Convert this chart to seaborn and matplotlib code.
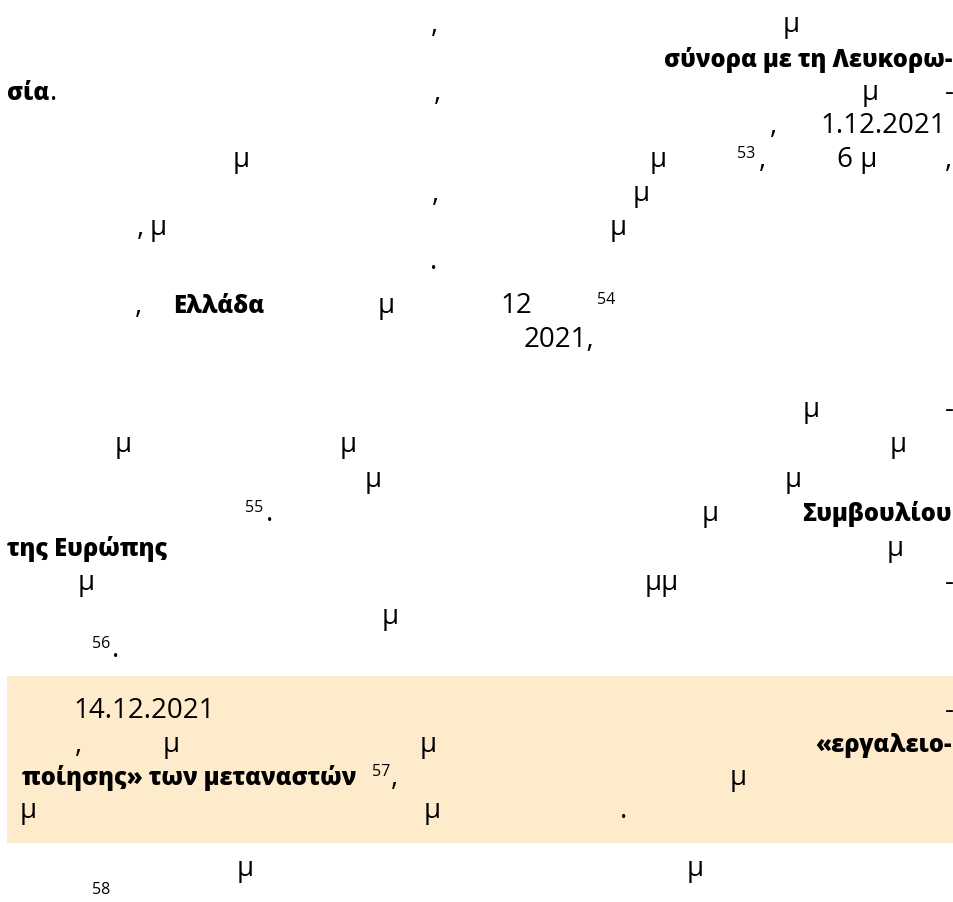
import matplotlib
matplotlib.use("Agg")
import matplotlib.pyplot as plt
from matplotlib.patches import Rectangle
import seaborn as sns

# ---------------- content: text fragments, line by line ----------------
body_lines = [
    [",", "μ"],
    ["σύνορα με τη Λευκορω-"],
    ["σία", ".", ",", "μ", "-"],
    [",", "1.12.2021"],
    ["μ", "μ", "53", ",", "6 μ", ","],
    [",", "μ"],
    [",", "μ", "μ"],
    ["."],
    [",", "Ελλάδα", "μ", "12", "54"],
    ["2021,"],
    ["μ", "-"],
    ["μ", "μ", "μ"],
    ["μ", "μ"],
    ["55", ".", "μ", "Συμβουλίου"],
    ["της Ευρώπης", "μ"],
    ["μ", "μμ", "-"],
    ["μ"],
    ["56", "."],
]
box_lines = [
    ["14.12.2021", "-"],
    [",", "μ", "μ", "«εργαλειο-"],
    ["ποίησης» των μεταναστών", "57", ",", "μ"],
    ["μ", "μ", "."],
]
after_lines = [
    ["μ", "μ"],
    ["58"],
]

# ---------------- layout (pixels) ----------------
body_baselines = [32, 67, 100, 133, 167, 201, 235, 269, 313, 347,
                  417, 452, 487, 521, 556, 590, 624, 657]
body_x = [
    [431, 783],
    [952],
    [7, 50, 434, 862, 945],
    [770, 820],
    [233, 650, 737, 759, 837, 945],
    [432, 633],
    [137, 150, 610],
    [430],
    [135, 173, 378, 500, 597],
    [524],
    [803, 945],
    [115, 340, 890],
    [365, 785],
    [245, 266, 702, 952],
    [7, 887],
    [78, 645, 945],
    [382],
    [92, 112],
]
body_style = [
    ["r", "r"],
    ["B"],
    ["b", "r", "r", "r", "r"],
    ["r", "r"],
    ["r", "r", "s", "r", "r", "r"],
    ["r", "r"],
    ["r", "r", "r"],
    ["r"],
    ["r", "b", "r", "r", "s"],
    ["r"],
    ["r", "r"],
    ["r", "r", "r"],
    ["r", "r"],
    ["s", "r", "r", "B"],
    ["b", "r"],
    ["r", "r", "r"],
    ["r"],
    ["s", "r"],
]
box_top, box_bottom, box_left = 677, 844, 7
box_color = "#FDEBCC"
box_baselines = [718, 752, 785, 818]
box_x = [
    [73, 945],
    [75, 163, 420, 952],
    [22, 372, 391, 730],
    [20, 424, 620],
]
box_style = [
    ["r", "r"],
    ["r", "r", "r", "B"],
    ["b", "s", "r", "r"],
    ["r", "r", "r"],
]
after_baselines = [876, 903]
after_x = [[237, 687], [92]]
after_style = [["r", "r"], ["s"]]

W, H = 954, 903
sns.set_theme(style="white")
plt.rcParams["font.family"] = ["Open Sans", "DejaVu Sans"]

fig = plt.figure(figsize=(W / 100, H / 100), dpi=100)
ax = fig.add_axes([0, 0, 1, 1])
ax.set_xlim(0, W)
ax.set_ylim(H, 0)
ax.axis("off")

ax.add_patch(Rectangle((box_left, box_top), W - box_left, box_bottom - box_top,
                       facecolor=box_color, edgecolor="none", zorder=0))

FS = 20
BOLD_FS = 17
SUP_FS = 11.5
SUP_RAISE = 9


def draw(lines, baselines, xs, styles):
    for frags, y, xrow, srow in zip(lines, baselines, xs, styles):
        for t, x, s in zip(frags, xrow, srow):
            kw = dict(color="black", va="baseline", zorder=2)
            if s == "r":
                ax.text(x, y, t, fontsize=FS, ha="left", **kw)
            elif s == "b":
                ax.text(x, y, t, fontsize=BOLD_FS, fontweight=800, ha="left", **kw)
            elif s == "B":
                ax.text(x, y, t, fontsize=BOLD_FS, fontweight=800, ha="right", **kw)
            elif s == "s":
                ax.text(x, y - SUP_RAISE, t, fontsize=SUP_FS, ha="left", **kw)


draw(body_lines, body_baselines, body_x, body_style)
draw(box_lines, box_baselines, box_x, box_style)
draw(after_lines, after_baselines, after_x, after_style)

fig.savefig("out.png", dpi=100, facecolor="white")
